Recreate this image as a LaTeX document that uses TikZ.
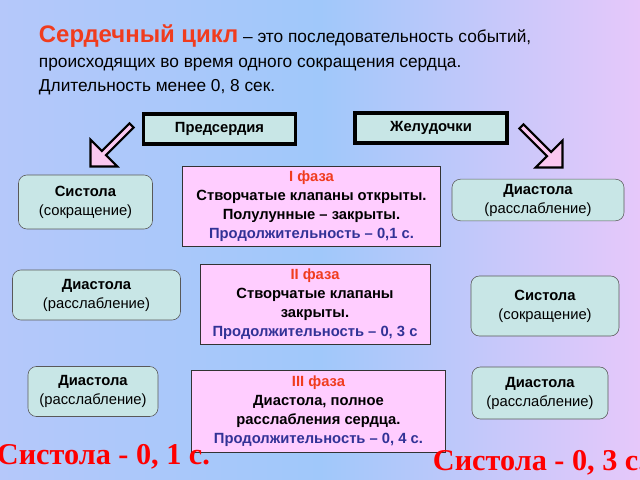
\documentclass[tikz,border=0pt]{standalone}
\usepackage{fontspec}
\setmainfont{Liberation Sans}
\newfontfamily\serifbold{Liberation Serif}
\usetikzlibrary{positioning}
\usetikzlibrary{shapes.arrows}
\definecolor{bgblue}{RGB}{160,200,250}
\definecolor{bgpink}{RGB}{230,200,250}
\definecolor{boxteal}{RGB}{200,230,230}
\definecolor{phasepink}{RGB}{255,205,255}
\definecolor{phasered}{RGB}{240,60,30}
\definecolor{durblue}{RGB}{50,50,150}
\definecolor{arrowpink}{RGB}{250,200,240}
\tikzset{
  chamber/.style={draw,line width=2.5pt,fill=boxteal,minimum height=0.75cm,font=\bfseries\fontsize{10.5}{12}\selectfont},
  state/.style={draw=gray!70!black,rounded corners=6pt,fill=boxteal,align=center,font=\fontsize{10.5}{13.5}\selectfont},
  phase/.style={draw=black!80,fill=phasepink,align=center,font=\bfseries\fontsize{10.5}{13.5}\selectfont},
  bigarrow/.style={single arrow,draw,line width=1.5pt,fill=arrowpink,minimum height=1.45cm,minimum width=0.95cm,single arrow head extend=0.15cm,inner sep=0pt}
}
\begin{document}
\begin{tikzpicture}[x=0.025cm,y=-0.025cm]
\useasboundingbox (0,0) rectangle (640,480);
\shade[left color=bgblue!70!bgpink,right color=bgpink,middle color=bgblue] (0,0) rectangle (640,480);

%title
\node (title) at (34,60) [anchor=west,align=left,font=\fontsize{12.3}{17.5}\selectfont]
  {{\color{phasered}\bfseries\fontsize{17}{17}\selectfont Сердечный цикл} -- это последовательность событий,\\
   происходящих во время одного сокращения сердца.\\
   Длительность менее 0, 8 сек.};

%chambers
\node (atria) at (219.5,129) [chamber,minimum width=3.8cm] {Предсердия};
\node (ventr) at (431,128) [chamber,minimum width=3.8cm] {Желудочки};
\node (arrL) at (112,145) [bigarrow,rotate=-135] {};
\node (arrR) at (541,146) [bigarrow,rotate=-45] {};

%phases
\node (ph1) at (311.5,206.5) [phase,minimum width=6.45cm,minimum height=1.9cm]
  {{\color{phasered}I фаза}\\Створчатые клапаны открыты.\\Полулунные -- закрыты.\\{\color{durblue}Продолжительность -- 0,1 с.}};
\node (ph2) at (315,304.5) [phase,minimum width=5.75cm,minimum height=2cm]
  {{\color{phasered}II фаза}\\Створчатые клапаны\\закрыты.\\{\color{durblue}Продолжительность -- 0, 3 с}};
\node (ph3) at (318.5,411) [phase,minimum width=6.35cm,minimum height=2.05cm]
  {{\color{phasered}III фаза}\\{\bfseries Диастола, полное}\\расслабления сердца.\\{\color{durblue}Продолжительность -- 0, 4 с.}};

%atria states
\node (a1) at (85.5,202) [state,minimum width=3.35cm,minimum height=1.35cm] {\textbf{Систола}\\(сокращение)};
\node (a2) at (96.5,295) [state,minimum width=4.2cm,minimum height=1.25cm] {\textbf{Диастола}\\(расслабление)};
\node (a3) at (93,391.5) [state,minimum width=3.25cm,minimum height=1.25cm] {\textbf{Диастола}\\(расслабление)};

%ventricle states
\node (v1) at (538,200) [state,minimum width=4.3cm,minimum height=1cm] {\textbf{Диастола}\\(расслабление)};
\node (v2) at (545,306) [state,minimum width=3.7cm,minimum height=1.5cm] {\textbf{Систола}\\(сокращение)};
\node (v3) at (540,393) [state,minimum width=3.4cm,minimum height=1.3cm] {\textbf{Диастола}\\(расслабление)};

%durations
\node (dA) at (-8,457) [anchor=west,text=red,font=\serifbold\bfseries\fontsize{21.5}{21.5}\selectfont] {Систола - 0, 1 с.};
\node (dV) at (428,463) [anchor=west,text=red,font=\serifbold\bfseries\fontsize{21.5}{21.5}\selectfont] {Систола - 0, 3 с.};
\end{tikzpicture}
\end{document}
